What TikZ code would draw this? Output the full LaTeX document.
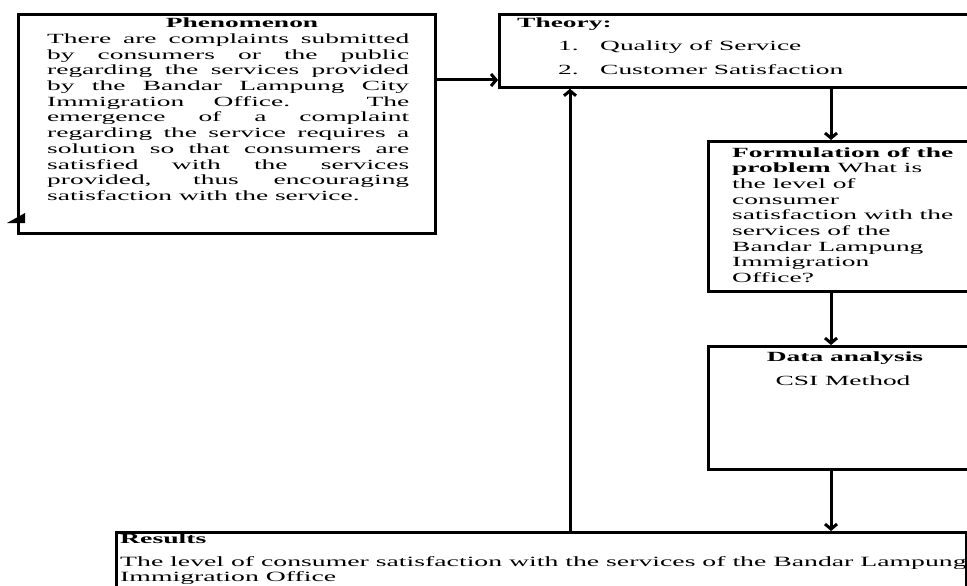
\documentclass[tikz,border=0pt]{standalone}
\usepackage{fontspec}
\setmainfont{Liberation Serif}[FakeStretch=1.96]
\usetikzlibrary{arrows.meta}
\tikzset{
  box/.style={draw=black, line width=2.8pt, rectangle, inner sep=0pt, anchor=north west},
  arr/.style={line width=3pt, -{Straight Barb[length=5pt,width=12pt]}},
  txt/.style={inner sep=0pt, font=\fontsize{14}{15.7}\selectfont},
  restxt/.style={inner sep=0pt, font=\fontsize{14.15}{15.7}\selectfont},
}
\begin{document}
\begin{tikzpicture}[x=1pt, y=-1pt]
\useasboundingbox (0,0) rectangle (967,586);
% boxes
\node[box, minimum width=417pt, minimum height=219pt] (phen) at (17,13) {};
\node[box, minimum width=520pt, minimum height=73pt] (theory) at (498,13) {};
\node[box, minimum width=320pt, minimum height=150pt] (form) at (707,140) {};
\node[box, minimum width=320pt, minimum height=123pt] (data) at (707,345) {};
\node[box, minimum width=850pt, minimum height=100pt] (res) at (115,531) {};
% small flag at lower left
\fill (7,223) -- (25,213) -- (25,223) -- cycle;
% texts
\node[txt, anchor=base] (phentitle) at (242,28) {\textbf{Phenomenon}};
\node[txt, anchor=north west, text width=362pt, align=justify] (phenbody) at (47,33.5)
  {There are complaints submitted\linebreak
   by consumers or the public\linebreak
   regarding the services provided\linebreak
   by the Bandar Lampung City\linebreak
   Immigration Office. The\linebreak
   emergence of a complaint\linebreak
   regarding the service requires a\linebreak
   solution so that consumers are\linebreak
   satisfied with the services\linebreak
   provided, thus encouraging\linebreak
   satisfaction with the service.};
\node[txt, anchor=base west] (thtitle) at (517,28) {\textbf{Theory:}};
\node[txt, anchor=base west] (n1) at (558,51) {1.};
\node[txt, anchor=base west] (t1) at (600,51) {Quality of Service};
\node[txt, anchor=base west] (n2) at (558,75) {2.};
\node[txt, anchor=base west] (t2) at (600,75) {Customer Satisfaction};
\node[txt, anchor=north west, align=left] (formtext) at (732,147)
  {\textbf{Formulation of the}\\
   \textbf{problem} What is\\
   the level of\\
   consumer\\
   satisfaction with the\\
   services of the\\
   Bandar Lampung\\
   Immigration\\
   Office?};
\node[txt, anchor=base] (datatitle) at (845,361) {\textbf{Data analysis}};
\node[txt, anchor=base] (datatext) at (843,385) {CSI Method};
\node[restxt, anchor=base west] (restitle) at (120,543) {\textbf{Results}};
\node[restxt, anchor=base west] (res1) at (120,566) {The level of consumer satisfaction with the services of the Bandar Lampung};
\node[restxt, anchor=base west] (res2) at (120,581) {Immigration Office};
% connectors
\draw[arr] (phen.east |- 0,80) -- (theory.west |- 0,80);
\draw[arr] (res.north -| 570,0) -- (theory.south -| 570,0);
\draw[arr] (theory.south -| 831,0) -- (form.north -| 831,0);
\draw[arr] (form.south -| 831,0) -- (data.north -| 831,0);
\draw[arr] (data.south -| 831,0) -- (res.north -| 831,0);
\end{tikzpicture}
\end{document}
